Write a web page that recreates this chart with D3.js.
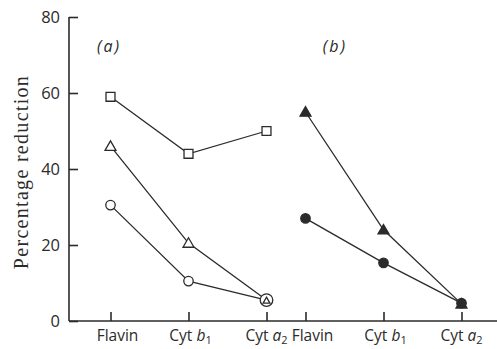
<!DOCTYPE html>
<html>
<head>
<meta charset="utf-8">
<script src="https://cdn.jsdelivr.net/npm/d3@7"></script>
<style>
  html, body { margin: 0; padding: 0; background: #fff; }
  svg { display: block; }
</style>
</head>
<body>
<svg id="chart" width="497" height="349"></svg>
<script>
// Categories along the x axis (each panel repeats them)
const categories = [
  { main: "Flavin", italic: "", sub: "", dx: 7 },
  { main: "Cyt ", italic: "b", sub: "1", dx: 2 },
  { main: "Cyt ", italic: "a", sub: "2", dx: 0 }
];
const panels = ["(a)", "(b)"];
const panelStart = [0, 2.5];            // position of first category in each panel
const yTicks = [0, 20, 40, 60, 80];

// Panel (a)
const aSquares   = [59, 44, 50];
const aTriangles = [46, 20.5, 5.5];
const aCircles   = [30.5, 10.5, 5.5];
// Panel (b)
const bTriangles = [55, 24, 4.5];
const bCircles   = [27, 15.3, 4.7];

const series = [
  { panel: 0, shape: "square",   filled: false, values: aSquares },
  { panel: 0, shape: "triangle", filled: false, values: aTriangles },
  { panel: 0, shape: "circle",   filled: false, values: aCircles },
  { panel: 1, shape: "triangle", filled: true,  values: bTriangles },
  { panel: 1, shape: "circle",   filled: true,  values: bCircles }
];

const svg = d3.select("#chart");
const ink = "#2b2b2b";
const sans = "'Open Sans', Lato, sans-serif";
const m = { left: 69, bottom: 321, top: 17, right: 497 };

const x = d3.scaleLinear().domain([0, 4.5]).range([110.5, 461.5]);
const y = d3.scaleLinear().domain([0, 80]).range([m.bottom, m.top]);

// Y axis
const yAxis = d3.axisRight(y).tickValues(yTicks).tickSize(9).tickFormat("");
const gy = svg.append("g").attr("transform", `translate(${m.left},0)`).call(yAxis);
gy.select(".domain").attr("d", `M0,${m.top}V${m.bottom}`);
gy.selectAll("path, line").attr("stroke", ink).attr("stroke-width", 1.6);

svg.append("g").selectAll("text").data(yTicks).join("text")
  .attr("x", m.left - 9).attr("y", d => y(d) + 6)
  .attr("text-anchor", "end")
  .attr("font-family", sans)
  .attr("font-size", 16.5).attr("fill", ink)
  .text(d => d);

// X axis
const positions = [];
panelStart.forEach(s => categories.forEach((c, i) => positions.push({ pos: s + i, cat: c })));
const xAxis = d3.axisTop(x).tickValues(positions.map(p => p.pos)).tickSize(9).tickFormat("");
const gx = svg.append("g").attr("transform", `translate(0,${m.bottom})`).call(xAxis);
gx.select(".domain").attr("d", `M${m.left},0H${m.right}`);
gx.selectAll("path, line").attr("stroke", ink).attr("stroke-width", 1.6);

const labels = svg.append("g").selectAll("text").data(positions).join("text")
  .attr("x", d => x(d.pos) + d.cat.dx).attr("y", 341)
  .attr("text-anchor", "middle")
  .attr("font-family", sans)
  .attr("font-size", 15.5).attr("fill", ink);
labels.append("tspan").text(d => d.cat.main);
labels.filter(d => d.cat.italic).append("tspan")
  .attr("font-style", "italic").text(d => d.cat.italic);
labels.filter(d => d.cat.sub).append("tspan")
  .attr("font-size", 11).attr("dy", 3).text(d => d.cat.sub);

// Y axis title
svg.append("text")
  .attr("transform", `translate(28,172) rotate(-90)`)
  .attr("text-anchor", "middle")
  .attr("font-family", "'Liberation Serif', 'DejaVu Serif', serif")
  .attr("font-size", 20).attr("fill", ink)
  .attr("letter-spacing", 1.3)
  .text("Percentage reduction");

// Panel labels
svg.append("g").selectAll("text").data(panels).join("text")
  .attr("x", (d, i) => [109, 335][i]).attr("y", 52)
  .attr("text-anchor", "middle")
  .attr("font-family", sans)
  .attr("font-style", "italic")
  .attr("font-size", 16).attr("fill", ink)
  .attr("letter-spacing", 2)
  .text(d => d);

// Lines and markers
const line = d3.line().x(d => x(d.pos)).y(d => y(d.v));
const symType = { square: d3.symbolSquare, triangle: d3.symbolTriangle, circle: d3.symbolCircle };
const symSize = { square: 80, triangle: 52, circle: 70 };

series.forEach(s => {
  s.pts = s.values.map((v, i) => ({ pos: panelStart[s.panel] + i, v, i }));
  svg.append("path").datum(s.pts)
    .attr("d", line).attr("fill", "none")
    .attr("stroke", ink).attr("stroke-width", 1.3);
});

// where open points coincide, the circle rings a small triangle
const marks = [];
series.forEach(s => s.pts.forEach(p => {
  const shared = !s.filled && series.some(o => o !== s && o.panel === s.panel && !o.filled && o.values[p.i] === p.v);
  let size = symSize[s.shape];
  if (shared && s.shape === "circle") size = 125;
  if (shared && s.shape === "triangle") size = 20;
  marks.push({ s, p, size, order: shared && s.shape === "triangle" ? 1 : 0 });
}));
marks.sort((a, b) => a.order - b.order);

svg.append("g").selectAll("path").data(marks).join("path")
  .attr("transform", d => `translate(${x(d.p.pos)},${y(d.p.v) + (d.s.shape === "triangle" ? 1 : 0)})`)
  .attr("d", d => d3.symbol(symType[d.s.shape], d.size)())
  .attr("fill", d => d.s.filled ? ink : "#fff")
  .attr("stroke", ink).attr("stroke-width", 1.3);
</script>
</body>
</html>
